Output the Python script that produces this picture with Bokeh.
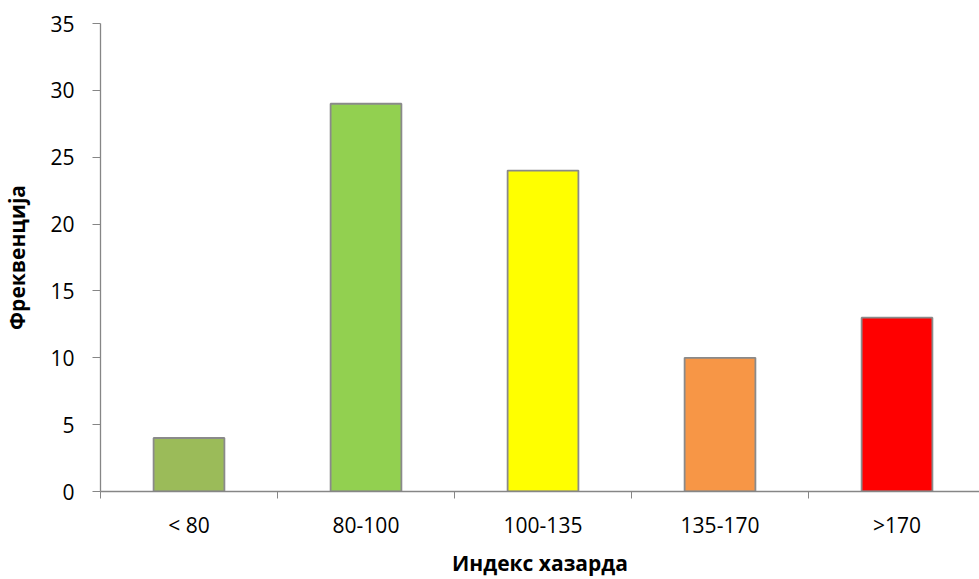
from bokeh.plotting import figure
from bokeh.models import ColumnDataSource, Range1d, FixedTicker
from bokeh.embed import file_html
from bokeh.resources import INLINE

categories = ["< 80", "80-100", "100-135", "135-170", ">170"]
frequencies = [4, 29, 24, 10, 13]
bar_colors = ["#9BBB59", "#92D050", "#FFFF00", "#F79646", "#FF0000"]
y_ticks = [0, 5, 10, 15, 20, 25, 30, 35]
x_title = "Индекс хазарда"
y_title = "Фреквенција"

centers = [i + 0.5 for i in range(len(categories))]
boundaries = list(range(len(categories) + 1))

src = ColumnDataSource(dict(x=centers, top=frequencies, color=bar_colors))

FONT = "Open Sans"
AX = "#868686"

p = figure(width=979, height=579, output_backend="svg", toolbar_location=None,
           x_range=Range1d(0, 4.966), y_range=Range1d(0, 35),
           min_border_left=100, min_border_right=0, min_border_top=23, min_border_bottom=87)
p.outline_line_color = None
p.background_fill_color = "white"
p.xgrid.visible = False
p.ygrid.visible = False

p.vbar(x="x", top="top", bottom=0, width=0.4, source=src,
       fill_color="color", line_color="#8a8a8a", line_width=1.8)

# x axis
xa = p.xaxis[0]
xa.ticker = FixedTicker(ticks=centers, minor_ticks=boundaries)
xa.major_label_overrides = {c: lab for c, lab in zip(centers, categories)}
xa.major_tick_line_color = None
xa.minor_tick_in = 0
xa.minor_tick_out = 7
xa.minor_tick_line_color = AX
xa.axis_line_color = AX
xa.axis_line_width = 1.3
xa.major_label_text_font = FONT
xa.major_label_text_font_size = "21px"
xa.major_label_text_color = "black"
xa.major_label_standoff = 12
xa.axis_label = x_title
xa.axis_label_text_font = FONT
xa.axis_label_text_font_size = "21px"
xa.axis_label_text_font_style = "bold"
xa.axis_label_text_color = "black"
xa.axis_label_standoff = 7

# y axis
ya = p.yaxis[0]
ya.ticker = FixedTicker(ticks=y_ticks)
ya.minor_tick_line_color = None
ya.major_tick_in = 0
ya.major_tick_out = 8
ya.major_tick_line_color = AX
ya.axis_line_color = AX
ya.axis_line_width = 1.3
ya.major_label_text_font = FONT
ya.major_label_text_font_size = "21px"
ya.major_label_text_color = "black"
ya.major_label_standoff = 18
ya.axis_label = y_title
ya.axis_label_text_font = FONT
ya.axis_label_text_font_size = "21px"
ya.axis_label_text_font_style = "bold"
ya.axis_label_text_color = "black"
ya.axis_label_standoff = 16

open("out.html", "w").write(file_html(p, INLINE))
